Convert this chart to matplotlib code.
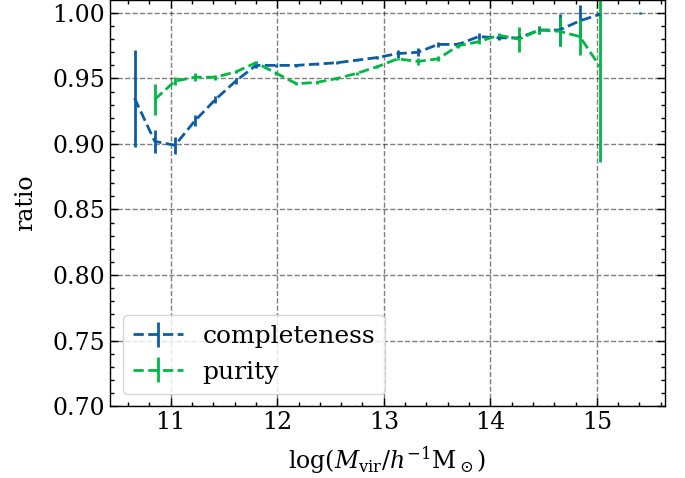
import numpy as np
import matplotlib
matplotlib.use("Agg")
import matplotlib.pyplot as plt
from matplotlib.ticker import MultipleLocator

# halo mass bins
log_mass = [10.66, 10.85, 11.04, 11.23, 11.42, 11.61, 11.80, 11.99, 12.18, 12.37,
            12.56, 12.75, 12.94, 13.13, 13.32, 13.51, 13.70, 13.89, 14.08, 14.27,
            14.46, 14.65, 14.84, 15.03, 15.22, 15.41]

completeness = [0.935, 0.902, 0.899, 0.918, 0.934, 0.948, 0.960, 0.960, 0.960, 0.961,
                0.962, 0.964, 0.966, 0.969, 0.970, 0.976, 0.976, 0.982, 0.981, 0.981,
                0.987, 0.987, 0.994, 0.999, np.nan, 1.000]
completeness_err = [0.037, 0.009, 0.0065, 0.004, 0.003, 0.002, 0.002, 0.001, 0.001, 0.001,
                    0.001, 0.001, 0.001, 0.003, 0.003, 0.002, 0.002, 0.003, 0.002, 0.002,
                    0.003, 0.012, 0.012, 0.002, np.nan, 0.0005]

purity = [np.nan, 0.934, 0.948, 0.951, 0.951, 0.955, 0.962, 0.954, 0.946, 0.947,
          0.950, 0.954, 0.959, 0.965, 0.963, 0.965, 0.975, 0.978, 0.983, 0.980,
          0.987, 0.986, 0.982, 0.959, np.nan, np.nan]
purity_err = [np.nan, 0.0115, 0.003, 0.003, 0.002, 0.001, 0.001, 0.001, 0.001, 0.001,
              0.001, 0.001, 0.001, 0.001, 0.003, 0.002, 0.002, 0.002, 0.002, 0.0095,
              0.003, 0.011, 0.0137, 0.073, np.nan, np.nan]

plt.rcParams.update({
    "font.family": "serif",
    "font.serif": ["DejaVu Serif"],
    "mathtext.fontset": "dejavuserif",
    "font.size": 17,
    "axes.linewidth": 1.0,
    "xtick.direction": "in",
    "ytick.direction": "in",
    "xtick.top": True,
    "ytick.right": True,
    "xtick.major.size": 6,
    "ytick.major.size": 6,
    "xtick.minor.size": 3,
    "ytick.minor.size": 3,
    "xtick.major.width": 1.0,
    "ytick.major.width": 1.0,
    "xtick.minor.width": 1.0,
    "ytick.minor.width": 1.0,
    "xtick.minor.visible": True,
    "ytick.minor.visible": True,
})

fig = plt.figure(figsize=(6.85, 4.78), dpi=100)
ax = fig.add_axes([0.1606, 0.1506, 0.8102, 0.8494])

ax.errorbar(log_mass, completeness, yerr=completeness_err, ls="--", lw=2,
            color="#0C5DA5", label="completeness")
ax.errorbar(log_mass, purity, yerr=purity_err, ls="--", lw=2,
            color="#00B945", label="purity")

ax.set_xlim(10.43, 15.64)
ax.set_ylim(0.70, 1.0099)
ax.xaxis.set_major_locator(MultipleLocator(1))
ax.xaxis.set_minor_locator(MultipleLocator(0.2))
ax.yaxis.set_major_locator(MultipleLocator(0.05))
ax.yaxis.set_minor_locator(MultipleLocator(0.01))
ax.grid(True, which="major", color="black", ls="--", lw=1.0, alpha=0.5)

ax.set_xlabel(r"log($M_{\rm vir}/h^{-1}{\rm M}_\odot$)", labelpad=8)
ax.set_ylabel("ratio", labelpad=11)
ax.legend(loc="lower left", frameon=True, fancybox=True, framealpha=0.8,
          edgecolor="0.8", handlelength=2.0, fontsize=18, handletextpad=0.8)

fig.savefig("out.png", dpi=100)
